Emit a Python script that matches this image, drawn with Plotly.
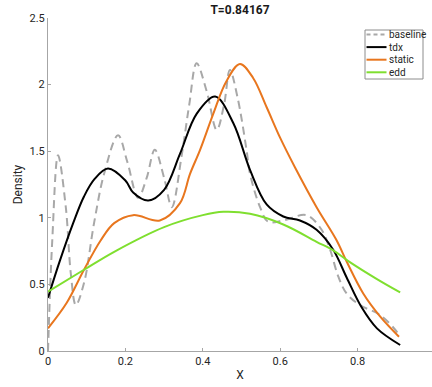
import plotly.graph_objects as go

# ---- data ----
baseline_x = [0, 0.011, 0.026, 0.046, 0.059, 0.072, 0.093, 0.119, 0.145, 0.181, 0.205, 0.233, 0.255,
              0.276, 0.3, 0.32, 0.345, 0.365, 0.384, 0.41, 0.436, 0.455, 0.47, 0.49, 0.513, 0.522,
              0.548, 0.569, 0.608, 0.668, 0.707, 0.729, 0.75, 0.772, 0.806, 0.858, 0.901, 0.907]
baseline_y = [0, 0.83, 1.47, 1.08, 0.58, 0.345, 0.51, 0.96, 1.33, 1.62, 1.42, 1.15, 1.3,
              1.51, 1.3, 1.08, 1.46, 1.85, 2.16, 1.95, 1.66, 1.85, 2.11, 1.9, 1.51, 1.33,
              1.08, 0.97, 0.98, 1.02, 0.91, 0.76, 0.56, 0.43, 0.345, 0.27, 0.145, 0.107]

tdx_x = [0, 0.031, 0.065, 0.093, 0.12, 0.155, 0.2, 0.22, 0.259, 0.3, 0.341, 0.384, 0.432, 0.479,
         0.522, 0.565, 0.608, 0.651, 0.694, 0.737, 0.772, 0.81, 0.85, 0.91]
tdx_y = [0.40, 0.68, 0.96, 1.16, 1.29, 1.37, 1.28, 1.19, 1.13, 1.21, 1.48, 1.78, 1.91, 1.71,
         1.36, 1.10, 1.01, 0.98, 0.91, 0.76, 0.55, 0.33, 0.17, 0.045]

static_x = [0, 0.048, 0.093, 0.136, 0.171, 0.22, 0.289, 0.341, 0.367, 0.393, 0.427, 0.46, 0.496,
            0.53, 0.565, 0.6, 0.638, 0.694, 0.746, 0.772, 0.815, 0.858, 0.907]
static_y = [0.17, 0.36, 0.61, 0.83, 0.96, 1.02, 0.98, 1.11, 1.33, 1.51, 1.78, 2.02, 2.155,
            2.05, 1.83, 1.60, 1.38, 1.08, 0.83, 0.67, 0.43, 0.26, 0.107]

edd_x = [0, 0.093, 0.171, 0.3, 0.4, 0.453, 0.522, 0.608, 0.694, 0.737, 0.776, 0.85, 0.91]
edd_y = [0.445, 0.61, 0.745, 0.93, 1.02, 1.045, 1.03, 0.95, 0.82, 0.755, 0.675, 0.54, 0.44]

series_names = ["baseline", "tdx", "static", "edd"]
series_colors = ["#a8a8a8", "#000000", "#e8761e", "#7fdf2f"]

x_ticks = [0, 0.2, 0.4, 0.6, 0.8]
x_tick_labels = ["0", "0.2", "0.4", "0.6", "0.8"]
y_ticks = [0, 0.5, 1, 1.5, 2, 2.5]
y_tick_labels = ["0", "0.5", "1", "1.5", "2", "2.5"]

title_text = "T=0.84167"

# ---- figure ----
W, H = 432, 387
ML, MR, MT, MB = 48, 0, 18, 36

fig = go.Figure()
data = [(baseline_x, baseline_y), (tdx_x, tdx_y), (static_x, static_y), (edd_x, edd_y)]
for (xs, ys), name, col in zip(data, series_names, series_colors):
    dash = "8px,5px" if name == "baseline" else "solid"
    fig.add_trace(go.Scatter(x=xs, y=ys, mode="lines", name=name, showlegend=False,
                             line=dict(color=col, width=2, dash=dash, shape="spline", smoothing=1.0)))

# custom legend (MATLAB-style compact box)
pw, ph = W - ML - MR, H - MT - MB
def px(xp):
    return (xp - ML) / pw
def py(yp):
    return (H - MB - yp) / ph

fig.add_shape(type="rect", xref="paper", yref="paper",
              x0=px(365), x1=px(423), y0=py(79), y1=py(30),
              line=dict(color="#8c8c8c", width=1), fillcolor="white", layer="above")
for i, (name, col) in enumerate(zip(series_names, series_colors)):
    yy = 34.5 + i * 12.6
    dash = "4px,3px" if name == "baseline" else "solid"
    fig.add_shape(type="line", xref="paper", yref="paper",
                  x0=px(366.5), x1=px(386.5), y0=py(yy), y1=py(yy),
                  line=dict(color=col, width=2, dash=dash), layer="above")
    fig.add_annotation(xref="paper", yref="paper", x=px(386.5), y=py(yy), text=name,
                       showarrow=False, xanchor="left", yanchor="middle",
                       font=dict(family="Roboto", size=10, color="#262626"))

fig.update_layout(
    width=W, height=H,
    margin=dict(l=ML, r=MR, t=MT, b=MB, pad=0),
    paper_bgcolor="white", plot_bgcolor="white",
    font=dict(family="Roboto", size=11, color="#262626"),
    title=dict(text="<b>" + title_text + "</b>", x=(ML + (W - ML - MR) / 2) / W, xanchor="center",
               y=1 - 10 / H, yanchor="middle", font=dict(size=12, color="#1a1a1a")),
    showlegend=False,
)
fig.update_xaxes(range=[0, (W - ML - MR) / 387.0], tickvals=x_ticks, ticktext=x_tick_labels,
                 showgrid=False, zeroline=False, showline=True, linecolor="#a6a6a6", linewidth=1,
                 ticks="inside", ticklen=3, tickcolor="#a6a6a6",
                 title=dict(text="X", standoff=3, font=dict(size=12)),
                 tickfont=dict(size=11))
fig.update_yaxes(range=[0, 2.5], tickvals=y_ticks, ticktext=y_tick_labels,
                 showgrid=False, zeroline=False, showline=True, linecolor="#a6a6a6", linewidth=1,
                 ticks="inside", ticklen=3, tickcolor="#a6a6a6",
                 title=dict(text="Density", standoff=4, font=dict(size=12)),
                 tickfont=dict(size=11))

fig.write_html("out.html")
